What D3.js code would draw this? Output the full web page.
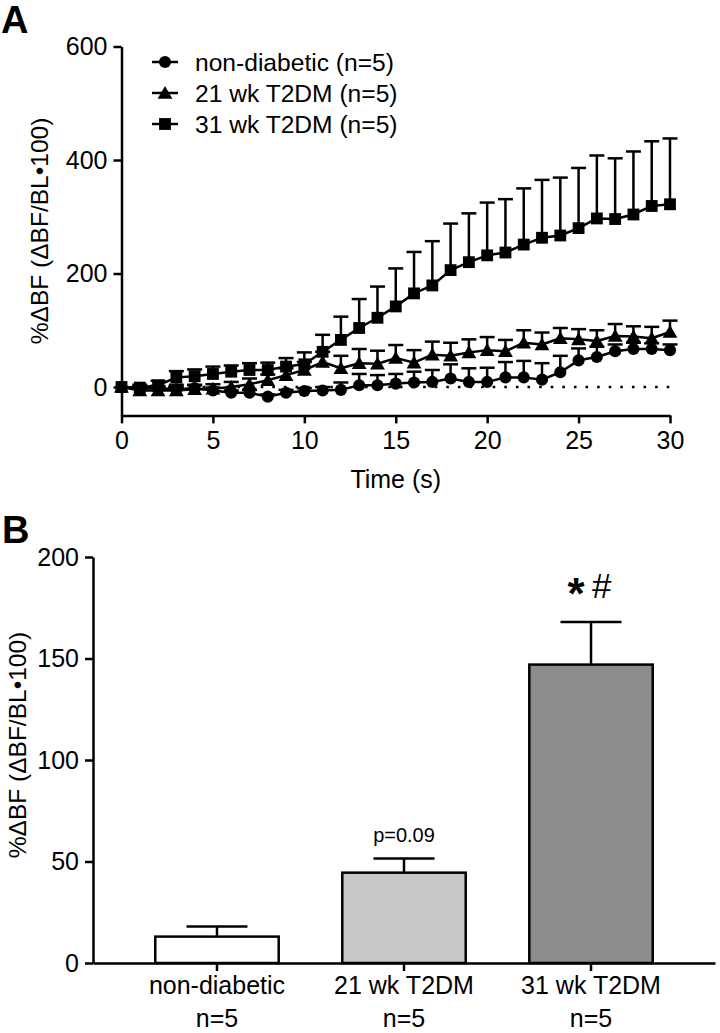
<!DOCTYPE html>
<html>
<head>
<meta charset="utf-8">
<script src="https://cdn.jsdelivr.net/npm/d3@7"></script>
<style>
  html, body { margin: 0; padding: 0; background: #fff; }
  svg { display: block; font-family: "Liberation Sans", Arial, Helvetica, sans-serif; }
</style>
</head>
<body>
<svg id="chart" width="720" height="1033"></svg>
<script>
// ---------- Panel A data ----------
const timeSec = d3.range(0, 31);
const nonDiabeticMean = [0,-2,-2,-4,-2,-6,-10,-10,-17,-10,-7,-6,-5,3,3,6,8,9,15,9,9,17,17,13,26,47,53,63,67,67,65];
const nonDiabeticSem  = [0,3,4,8,6,5,4,5,4,5,5,6,13,20,18,17,19,21,25,24,25,27,29,29,29,21,18,12,11,10,10];
const wk21Mean = [0,-6,-6,-6,-4,-3,0,5,12,21,30,44,33,42,41,51,43,57,55,61,65,63,78,75,86,84,81,90,89,86,97];
const wk21Sem  = [0,4,5,6,7,8,9,10,10,12,14,18,22,25,23,23,22,23,23,23,23,20,22,21,18,18,19,21,18,20,20];
const wk31Mean = [0,-1,3,17,19,23,27,30,30,36,40,62,83,104,122,142,165,179,206,220,232,237,251,263,267,280,297,296,304,319,322];
const wk31Sem  = [0,5,8,11,12,13,11,12,13,15,21,30,41,51,55,67,73,78,82,86,93,94,99,102,102,106,111,107,111,114,116];
const seriesNames = ["non-diabetic (n=5)", "21 wk T2DM (n=5)", "31 wk T2DM (n=5)"];
const timeTicks = [0,5,10,15,20,25,30];
const yTicksA = [0,200,400,600];

// ---------- Panel B data ----------
const groups = ["non-diabetic", "21 wk T2DM", "31 wk T2DM"];
const groupN = ["n=5", "n=5", "n=5"];
const barMean = [13, 44.5, 147];
const barSem = [5, 7, 21];
const barFill = ["#ffffff", "#c8c8c8", "#8c8c8c"];
const yTicksB = [0,50,100,150,200];
const yTitle = "%\u0394BF (\u0394BF/BL\u2022100)";

const svg = d3.select("#chart");
const FONT = 25;
const SW = 2.5;

// ================= Panel A =================
const xA = d3.scaleLinear().domain([0, 30]).range([121.5, 670]);
const yA = d3.scaleLinear().domain([-50, 600]).range([415.4, 46.5]);
const gA = svg.append("g");

svg.append("text").attr("x", 1).attr("y", 33).attr("font-size", 38).attr("font-weight", "bold").text("A");

// dotted zero line
gA.append("line")
  .attr("x1", xA(0)).attr("x2", xA(30)).attr("y1", yA(0)).attr("y2", yA(0))
  .attr("stroke", "#000").attr("stroke-width", 2.6).attr("stroke-dasharray", "2.6 9")
  .attr("stroke-linecap", "butt");

const axA_y = gA.append("g").attr("transform", `translate(${xA(0)},0)`)
  .call(d3.axisLeft(yA).tickValues(yTicksA).tickSize(8).tickSizeOuter(0).tickPadding(6));
const axA_x = gA.append("g").attr("transform", `translate(0,${yA(-50)})`)
  .call(d3.axisBottom(xA).tickValues(timeTicks).tickSize(8).tickSizeOuter(0).tickPadding(8));
[axA_y, axA_x].forEach(a => {
  a.selectAll("path, line").attr("stroke", "#000").attr("stroke-width", SW);
  a.selectAll("text").attr("font-size", FONT).attr("fill", "#000").attr("font-family", "Liberation Sans, Arial, sans-serif");
});

gA.append("text").attr("x", (xA(0)+xA(30))/2).attr("y", 488).attr("text-anchor", "middle")
  .attr("font-size", FONT).text("Time (s)");
gA.append("text").attr("transform", `translate(48,${(yA(-50)+yA(600))/2}) rotate(-90)`)
  .attr("text-anchor", "middle").attr("font-size", 24.5).text(yTitle);

const series = [
  { name: seriesNames[0], mean: nonDiabeticMean, sem: nonDiabeticSem, sym: d3.symbolCircle, size: 115 },
  { name: seriesNames[1], mean: wk21Mean, sem: wk21Sem, sym: d3.symbolTriangle, size: 95 },
  { name: seriesNames[2], mean: wk31Mean, sem: wk31Sem, sym: d3.symbolSquare, size: 140 }
];
const capW = 7.5;
const lineGen = d3.line().x((d, i) => xA(timeSec[i])).y(d => yA(d));

// error bars
series.slice().reverse().forEach(s => {
  const eg = gA.append("g");
  s.mean.forEach((m, i) => {
    if (s.sem[i] <= 0) return;
    const x = xA(timeSec[i]), y0 = yA(m), y1 = yA(m + s.sem[i]);
    eg.append("line").attr("x1", x).attr("x2", x).attr("y1", y0).attr("y2", y1)
      .attr("stroke", "#000").attr("stroke-width", SW);
    eg.append("line").attr("x1", x - capW).attr("x2", x + capW).attr("y1", y1).attr("y2", y1)
      .attr("stroke", "#000").attr("stroke-width", SW);
  });
});
// lines + markers
series.slice().reverse().forEach(s => {
  gA.append("path").datum(s.mean).attr("d", lineGen).attr("fill", "none")
    .attr("stroke", "#000").attr("stroke-width", SW).attr("stroke-linejoin", "round");
  gA.append("g").selectAll("path").data(s.mean).join("path")
    .attr("transform", (d, i) => `translate(${xA(timeSec[i])},${yA(d) + (s.sym === d3.symbolTriangle ? 1.5 : 0)})`)
    .attr("d", d3.symbol().type(s.sym).size(s.size)).attr("fill", "#000");
});

// legend
const legRows = [62, 93, 124];
series.forEach((s, i) => {
  const g = svg.append("g").attr("transform", `translate(0,${legRows[i]})`);
  g.append("line").attr("x1", 152).attr("x2", 178).attr("y1", 0).attr("y2", 0)
    .attr("stroke", "#000").attr("stroke-width", SW);
  g.append("path").attr("transform", `translate(165,${s.sym === d3.symbolTriangle ? 1.5 : 0})`)
    .attr("d", d3.symbol().type(s.sym).size(s.size)).attr("fill", "#000");
  g.append("text").attr("x", 195).attr("y", 8.8).attr("font-size", 24.6).text(s.name);
});

// ================= Panel B =================
svg.append("text").attr("x", 2).attr("y", 543).attr("font-size", 38).attr("font-weight", "bold").text("B");

const xB = d3.scaleBand().domain(groups).range([93, 715]).paddingInner(0.34).paddingOuter(0.333);
const yB = d3.scaleLinear().domain([0, 200]).range([963, 557]);
const gB = svg.append("g");

groups.forEach((gname, i) => {
  const cx = xB(gname) + xB.bandwidth() / 2;
  const y1 = yB(barMean[i] + barSem[i]);
  gB.append("line").attr("x1", cx).attr("x2", cx).attr("y1", yB(barMean[i])).attr("y2", y1)
    .attr("stroke", "#000").attr("stroke-width", SW);
  gB.append("line").attr("x1", cx - 30.5).attr("x2", cx + 30.5).attr("y1", y1).attr("y2", y1)
    .attr("stroke", "#000").attr("stroke-width", SW);
});
gB.append("g").selectAll("rect").data(groups).join("rect")
  .attr("x", d => xB(d)).attr("width", xB.bandwidth())
  .attr("y", (d, i) => yB(barMean[i])).attr("height", (d, i) => yB(0) - yB(barMean[i]))
  .attr("fill", (d, i) => barFill[i]).attr("stroke", "#000").attr("stroke-width", SW);

const axB_y = gB.append("g").attr("transform", `translate(93,0)`)
  .call(d3.axisLeft(yB).tickValues(yTicksB).tickSize(8).tickSizeOuter(0).tickPadding(6));
const axB_x = gB.append("g").attr("transform", `translate(0,963)`)
  .call(d3.axisBottom(xB).tickSize(8).tickSizeOuter(0).tickPadding(8).tickFormat(() => ""));
[axB_y, axB_x].forEach(a => {
  a.selectAll("path, line").attr("stroke", "#000").attr("stroke-width", SW);
  a.selectAll("text").attr("font-size", FONT).attr("fill", "#000").attr("font-family", "Liberation Sans, Arial, sans-serif");
});
groups.forEach((gname, i) => {
  const cx = xB(gname) + xB.bandwidth() / 2;
  gB.append("text").attr("x", cx).attr("y", 994).attr("text-anchor", "middle").attr("font-size", FONT).text(gname);
  gB.append("text").attr("x", cx).attr("y", 1027).attr("text-anchor", "middle").attr("font-size", FONT).text(groupN[i]);
});

gB.append("text").attr("transform", `translate(26,${(963+557)/2 - 15}) rotate(-90)`)
  .attr("text-anchor", "middle").attr("font-size", 24.5).text(yTitle);

// annotations
const c2 = xB(groups[1]) + xB.bandwidth() / 2;
gB.append("text").attr("x", c2).attr("y", 842).attr("text-anchor", "middle").attr("font-size", 20).text("p=0.09");
const c3 = xB(groups[2]) + xB.bandwidth() / 2;
gB.append("text").attr("x", c3 - 15).attr("y", 609).attr("text-anchor", "middle")
  .attr("font-size", 44).attr("font-weight", "bold").text("*");
gB.append("text").attr("x", c3 + 1).attr("y", 598).attr("text-anchor", "start")
  .attr("font-size", 35).text("#");
</script>
</body>
</html>
